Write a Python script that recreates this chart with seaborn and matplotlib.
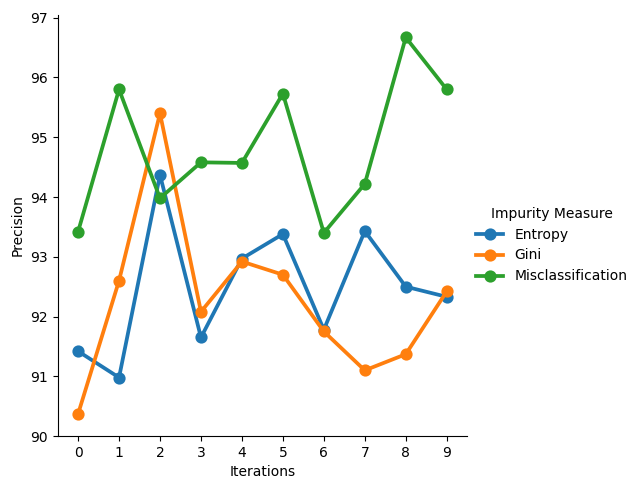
import pandas as pd
import matplotlib
matplotlib.use("Agg")
import matplotlib.pyplot as plt
import seaborn as sns

iterations = list(range(10))
entropy = [91.42, 90.98, 94.37, 91.65, 92.97, 93.38, 91.78, 93.43, 92.50, 92.33]
gini = [90.37, 92.60, 95.40, 92.08, 92.92, 92.70, 91.75, 91.10, 91.37, 92.42]
misclass = [93.42, 95.80, 93.98, 94.58, 94.57, 95.73, 93.40, 94.22, 96.67, 95.80]

df = pd.DataFrame({
    "Iterations": iterations * 3,
    "Precision": entropy + gini + misclass,
    "Impurity Measure": ["Entropy"] * 10 + ["Gini"] * 10 + ["Misclassification"] * 10,
})

g = sns.catplot(data=df, x="Iterations", y="Precision", hue="Impurity Measure",
                kind="point", height=4.9)
g.figure.set_size_inches(6.4, 4.9)
g.ax.set_ylim(90, 97.05)
g.figure.subplots_adjust(left=0.09, right=0.73, bottom=0.11, top=0.97)
g.figure.savefig("out.png", dpi=100)
